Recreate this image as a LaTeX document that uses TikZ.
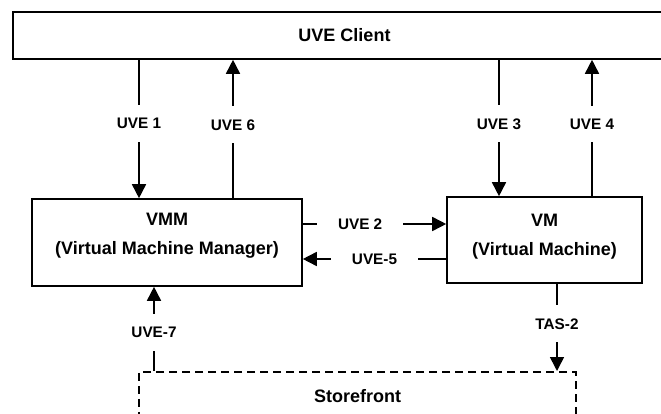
\documentclass[tikz,border=0pt]{standalone}
\usepackage{fontspec}
\setmainfont{Liberation Sans}
\usepackage{pgf,tikz}
\usetikzlibrary{arrows.meta}
\usetikzlibrary{positioning}

\tikzset{
  box/.style={draw,line width=1.6pt,inner sep=0pt},
  sbox/.style={draw,line width=1.6pt,inner sep=0pt,dash pattern=on 8pt off 5pt},
  boxtxt/.style={align=center,font=\fontsize{18}{29}\selectfont\bfseries},
  vlbl/.style={fill=white,inner xsep=2pt,inner ysep=13pt,font=\fontsize{15.3}{18}\selectfont\bfseries},
  hlbl/.style={fill=white,inner xsep=21pt,inner ysep=2pt,font=\fontsize{15.3}{18}\selectfont\bfseries}
}

\begin{document}
\begin{tikzpicture}[line cap=butt,line join=miter,>={Triangle[length=14pt,width=14pt]},x=1pt,y=-1pt]
\useasboundingbox (0,0) rectangle (661,414);
\node[box,minimum width=663,minimum height=47,font=\fontsize{18}{22}\selectfont\bfseries] (client) at (344.5,35.5) {UVE Client};
\node[box,minimum width=270,minimum height=87,label={[boxtxt,yshift=7pt]center:{VMM\\(Virtual Machine Manager)}}] (vmm) at (167,242.5) {};
\node[box,minimum width=195,minimum height=86,label={[boxtxt,yshift=3pt]center:{VM\\(Virtual Machine)}}] (vm) at (544.5,240) {};
\node[sbox,minimum width=437,minimum height=48,anchor=north,font=\fontsize{18}{22}\selectfont\bfseries] (store) at (357.5,371) {Storefront};
% client <-> vmm
\draw [line width=1.6pt,->] (client.south -| 139,0) -- node[vlbl,pos=0.46] {UVE 1} (vmm.north -| 139,0);
\draw [line width=1.6pt,->] (vmm.north -| 233,0) -- node[vlbl,pos=0.53] {UVE 6} (client.south -| 233,0);
% client <-> vm
\draw [line width=1.6pt,->] (client.south -| 499,0) -- node[vlbl,pos=0.47] {UVE 3} (vm.north -| 499,0);
\draw [line width=1.6pt,->] (vm.north -| 592,0) -- node[vlbl,pos=0.53] {UVE 4} (client.south -| 592,0);
% vmm <-> vm
\draw [line width=1.6pt,->] (vmm.east |- 0,224) -- node[hlbl,pos=0.4] {UVE 2} (vm.west |- 0,224);
\draw [line width=1.6pt,->] (vm.west |- 0,259) -- node[hlbl,pos=0.5] {UVE-5} (vmm.east |- 0,259);
% storefront
\draw [line width=1.6pt,->] (store.north -| 154,0) -- node[vlbl,pos=0.46] {UVE-7} (vmm.south -| 154,0);
\draw [line width=1.6pt,->] (vm.south -| 557,0) -- node[vlbl,pos=0.46] {TAS-2} (store.north -| 557,0);
\end{tikzpicture}
\end{document}
